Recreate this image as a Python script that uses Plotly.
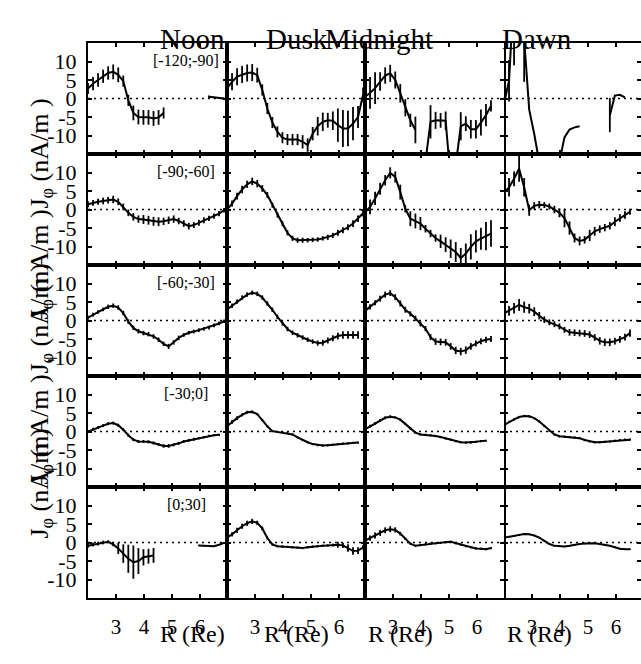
import plotly.graph_objects as go

# ---------------- data ----------------
R = [2.00, 2.18, 2.36, 2.54, 2.72, 2.90, 3.08, 3.26, 3.44, 3.62, 3.80, 3.98, 4.16, 4.34,
     4.52, 4.70, 4.88, 5.06, 5.24, 5.42, 5.60, 5.78, 5.96, 6.14, 6.32, 6.50, 6.68, 6.86]

columns = ["Noon", "Dusk", "Midnight", "Dawn"]
intervals = ["[-120;-90]", "[-90;-60]", "[-60;-30]", "[-30;0]", "[0;30]"]
x_ticks = [3, 4, 5, 6]
y_ticks = [-10, -5, 0, 5, 10]
y_ticklabels = ["-10", "-5", "0", "5", "10"]
N = None

# row 1  [-120;-90]
J_noon_1 = [2.7, 4.0, 5.0, 6.0, 6.9, 7.2, 6.4, 4.7, -0.5, -3.9, -5.0, -5.1, -5.1, -5.4, -5.1, -3.9,
            N, N, N, N, N, N, N, N, 0.5, 0.3, 0.1, 0.0]
E_noon_1 = [1.5, 1.8, 1.8, 1.8, 1.8, 2.0, 2.0, 1.5, 1.5, 2.0, 2.0, 2.0, 2.0, 2.0, 2.0, 1.5,
            N, N, N, N, N, N, N, N, 0.3, 0.2, 0.2, 0.2]
J_dusk_1 = [2.7, 4.5, 5.9, 6.5, 6.9, 7.0, 6.3, 2.3, -2.7, -6.5, -9.0, -10.6, -11.1, -11.1, -11.1,
            -11.7, -12.6, -9.5, -7.5, -6.3, -5.9, -6.0, -7.2, -8.1, -8.1, -6.8, -5.0, 1.0]
E_dusk_1 = [2.3, 2.3, 2.3, 2.3, 2.3, 2.3, 2.0, 1.5, 1.5, 1.5, 1.5, 1.5, 1.5, 1.5, 1.5, 1.8, 1.8,
            1.8, 2.5, 2.5, 2.0, 2.5, 4.5, 5.0, 4.8, 4.5, 3.0, 2.0]
J_mid_1 = [0.5, 1.5, 2.8, 4.6, 6.2, 6.8, 5.0, 1.4, -2.5, -5.9, -8.5, N, -17, -6.3, -5.9, -5.9, -6.0,
           -22, -18, -7.5, -6.8, -8.3, -8.3, -6.5, -4.5, -2.0]
E_mid_1 = [4.3, 4.3, 4.3, 2.5, 2.2, 2.3, 2.3, 2.5, 2.3, 1.8, 3.6, N, 0, 4.5, 2.3, 2.0, 2.5, 0, 0,
           3.8, 2.0, 2.5, 2.5, 3.5, 3.0, 1.5]
J_dawn_1 = [-1.4, 4.8, 30, 45, 16, -3.0, -9.6, -15.6, -25, -25, -25, -17, -10.5, -8.4, -7.8, -7.5,
            N, N, N, N, N, -4.5, 0.8, 1.0, 0.3]
E_dawn_1 = [0, 5.6, 21, 0, 11.5, 0, 0, 0, 0, 0, 0, 0, 0, 0, 0, 0,
            N, N, N, N, N, 4.6, 0, 0, 0]

# row 2  [-90;-60]
J_noon_2 = [1.4, 1.8, 2.1, 2.3, 2.5, 2.7, 2.1, 0.7, -0.9, -2.0, -2.6, -2.7, -2.9, -3.2, -3.3, -3.2,
            -2.9, -2.6, -3.1, -3.8, -4.5, -4.2, -3.6, -2.9, -2.4, -1.8, -1.1, -0.2]
E_noon_2 = [0.8, 0.8, 0.8, 0.9, 0.9, 1.0, 0.9, 0.9, 0.9, 1.0, 1.0, 1.2, 1.2, 1.2, 1.2, 1.0, 1.0,
            1.0, 0.9, 0.9, 0.9, 0.8, 0.8, 0.8, 0.7, 0.7, 0.7, 0.6]
J_dusk_2 = [0.0, 1.6, 3.6, 5.4, 6.8, 7.6, 7.0, 5.7, 3.9, 1.2, -1.5, -3.8, -6.3, -7.8, -8.3, -8.3,
            -8.3, -8.2, -8.1, -7.8, -7.5, -7.0, -6.3, -5.6, -4.8, -3.8, -2.5, -1.0]
E_dusk_2 = [0.7, 0.8, 0.9, 1.0, 1.0, 1.0, 1.0, 0.9, 0.8, 0.7, 0.7, 0.7, 0.7, 0.7, 0.7, 0.7, 0.6,
            0.6, 0.6, 0.6, 0.7, 0.7, 0.8, 0.8, 0.8, 0.9, 0.9, 0.9]
J_mid_2 = [-0.7, 0.7, 3.0, 5.6, 7.9, 9.9, 8.8, 4.7, 0.2, -2.5, -3.1, -3.8, -5.2, -6.5, -7.7, -8.6,
           -9.5, -10.6, -11.5, -13.1, -11.9, -10.1, -8.6, -7.9, -7.2, -6.5]
E_mid_2 = [1.6, 2.0, 1.8, 1.6, 1.4, 1.5, 1.5, 2.0, 1.0, 2.0, 2.0, 1.8, 1.0, 1.0, 1.0, 1.8, 2.0,
           2.5, 2.7, 2.7, 2.7, 3.4, 3.0, 3.0, 3.8, 3.6]
J_dawn_2 = [4.5, 6.0, 8.3, 11.0, 6.0, -0.2, 1.0, 1.3, 1.2, 0.8, 0.0, -0.9, -2.3, -5.0, -7.7, -8.5,
            -8.2, -7.0, -5.9, -5.3, -4.9, -4.4, -3.3, -2.3, -1.5, -0.6]
E_dawn_2 = [2.0, 2.5, 2.0, 3.5, 2.5, 1.5, 1.0, 1.0, 0.8, 0.8, 1.0, 1.2, 2.5, 1.8, 1.2, 1.2, 1.0,
            1.5, 1.2, 1.0, 1.0, 1.0, 1.2, 1.0, 1.0, 0.8]

# row 3  [-60;-30]
J_noon_3 = [0.8, 1.6, 2.3, 3.0, 3.7, 4.0, 3.5, 2.0, -0.3, -2.0, -2.9, -3.4, -3.7, -4.3, -5.2, -6.3,
            -7.0, -5.9, -4.7, -3.9, -3.3, -3.0, -2.6, -2.3, -1.9, -1.3, -0.8, -0.2]
E_noon_3 = [0.5, 0.5, 0.5, 0.5, 0.6, 0.6, 0.6, 0.6, 0.6, 0.6, 0.6, 0.6, 0.6, 0.6, 0.6, 0.6, 0.7,
            0.6, 0.6, 0.5, 0.5, 0.5, 0.5, 0.5, 0.5, 0.5, 0.5, 0.5]
J_dusk_3 = [3.0, 4.0, 5.1, 6.2, 7.0, 7.5, 7.2, 6.2, 4.6, 2.9, 1.0, -0.8, -2.3, -3.3, -4.0, -4.6,
            -5.2, -5.7, -6.1, -6.0, -5.4, -4.8, -4.2, -3.9, -3.9, -3.9, -3.9]
E_dusk_3 = [0.6, 0.6, 0.6, 0.6, 0.6, 0.6, 0.6, 0.6, 0.6, 0.6, 0.6, 0.6, 0.6, 0.6, 0.6, 0.6, 0.6,
            0.6, 0.7, 0.8, 0.8, 0.8, 0.9, 1.0, 1.0, 1.0, 1.0]
J_mid_3 = [2.6, 3.7, 4.8, 5.9, 7.0, 7.4, 6.3, 4.6, 2.9, 1.8, 0.6, -0.9, -2.2, -4.5, -5.7, -5.8,
           -5.9, -7.0, -8.1, -8.4, -8.0, -7.0, -6.2, -5.6, -5.2, -5.0]
E_mid_3 = [0.7, 0.7, 0.7, 0.8, 0.8, 0.8, 0.8, 0.8, 0.8, 0.7, 0.7, 0.7, 0.7, 0.8, 0.9, 0.9, 0.9,
           0.9, 1.0, 1.0, 1.0, 0.9, 0.8, 0.8, 0.8, 0.8]
J_dawn_3 = [1.9, 2.6, 3.3, 4.2, 3.6, 3.2, 2.4, 1.3, 0.2, -0.5, -1.0, -1.6, -2.5, -3.2, -3.3, -3.4,
            -3.5, -3.8, -4.6, -5.5, -5.9, -5.9, -5.6, -5.1, -4.5, -3.4]
E_dawn_3 = [1.2, 1.3, 1.4, 1.6, 1.5, 1.3, 1.2, 1.0, 0.9, 0.8, 0.8, 0.8, 0.8, 0.9, 0.9, 0.9, 0.9,
            0.9, 0.9, 1.0, 1.0, 1.0, 0.9, 0.9, 0.9, 1.0]

# row 4  [-30;0]
J_noon_4 = [0.0, 0.6, 1.1, 1.6, 2.1, 2.3, 1.7, 0.5, -1.0, -2.2, -2.7, -2.7, -2.8, -3.1, -3.5, -3.9,
            -3.9, -3.6, -3.2, -2.7, -2.4, -2.1, -1.8, -1.5, -1.2, -1.0, -0.9]
E_noon_4 = [0.4, 0.4, 0.4, 0.4, 0.4, 0.4, 0.4, 0.4, 0.4, 0.4, 0.4, 0.4, 0.4, 0.4, 0.4, 0.5, 0.5,
            0.4, 0.4, 0.4, 0.4, 0.4, 0.3, 0.3, 0.3, 0.3, 0.3]
J_dusk_4 = [1.4, 2.6, 3.6, 4.5, 5.2, 5.3, 4.7, 3.1, 1.4, 0.1, -0.1, -0.2, -0.4, -0.8, -1.6, -2.3,
            -2.9, -3.4, -3.7, -3.8, -3.7, -3.6, -3.4, -3.3, -3.2, -3.1, -3.0]
E_dusk_4 = [0.6, 0.5, 0.5, 0.4, 0.4, 0.4, 0.3, 0.3, 0.3, 0.3, 0.3, 0.3, 0.3, 0.3, 0.3, 0.3, 0.3,
            0.3, 0.3, 0.3, 0.3, 0.3, 0.3, 0.3, 0.3, 0.3, 0.3]
J_mid_4 = [0.6, 1.4, 2.2, 3.0, 3.7, 4.0, 3.8, 3.2, 2.1, 0.8, -0.3, -0.8, -0.9, -1.0, -1.2, -1.5,
           -1.9, -2.2, -2.6, -2.9, -3.0, -3.0, -2.8, -2.6, -2.5]
E_mid_4 = [0.4, 0.4, 0.4, 0.4, 0.4, 0.4, 0.3, 0.3, 0.3, 0.3, 0.3, 0.3, 0.3, 0.3, 0.3, 0.3, 0.3,
           0.3, 0.3, 0.3, 0.3, 0.3, 0.3, 0.3, 0.3]
J_dawn_4 = [1.7, 2.6, 3.3, 3.9, 4.2, 4.1, 3.6, 2.7, 1.5, 0.2, -0.8, -1.3, -1.4, -1.5, -1.6, -1.8,
            -2.3, -2.7, -2.9, -2.9, -2.8, -2.7, -2.5, -2.3, -2.2, -2.2]
E_dawn_4 = [0.3, 0.3, 0.3, 0.3, 0.3, 0.3, 0.3, 0.3, 0.3, 0.3, 0.3, 0.3, 0.3, 0.3, 0.3, 0.3, 0.3,
            0.3, 0.3, 0.3, 0.3, 0.3, 0.3, 0.3, 0.3, 0.3]

# row 5  [0;30]
J_noon_5 = [-0.9, -0.6, -0.3, 0.0, 0.2, -0.5, -1.6, -3.0, -4.4, -5.3, -5.0, -4.0, -3.7, -3.5,
            N, N, N, N, N, N, N, N, -0.8, -0.9, -0.9, -1.0, -0.6, -0.1]
E_noon_5 = [0.5, 0.5, 0.5, 0.5, 0.4, 0.5, 1.5, 2.5, 3.8, 4.5, 3.5, 2.2, 2.0, 2.0,
            N, N, N, N, N, N, N, N, 0.2, 0.2, 0.2, 0.2, 0.2, 0.2]
J_dusk_5 = [1.4, 2.2, 3.3, 4.4, 5.2, 5.7, 5.3, 3.8, 1.2, -0.5, -1.0, -1.1, -1.2, -1.3, -1.4, -1.5,
            -1.3, -1.1, -1.0, -0.9, -0.8, -0.7, -0.6, -0.8, -1.5, -2.3, -2.2, -1.3]
E_dusk_5 = [0.6, 0.6, 0.7, 0.7, 0.7, 0.7, 0.6, 0.5, 0.4, 0.3, 0.3, 0.3, 0.3, 0.3, 0.3, 0.3, 0.3,
            0.3, 0.3, 0.3, 0.3, 0.4, 0.8, 0.7, 1.0, 1.0, 0.9, 0.6]
J_mid_5 = [0.5, 1.2, 1.9, 2.6, 3.3, 3.6, 3.4, 2.4, 1.0, -0.3, -0.9, -0.7, -0.5, -0.3, -0.2, -0.1,
           0.1, 0.2, -0.2, -0.6, -1.0, -1.3, -1.6, -1.7, -1.8, -1.5]
E_mid_5 = [0.6, 0.7, 0.8, 0.8, 0.8, 0.8, 0.7, 0.5, 0.3, 0.3, 0.3, 0.3, 0.3, 0.3, 0.3, 0.3, 0.3,
           0.3, 0.3, 0.3, 0.3, 0.3, 0.3, 0.3, 0.3, 0.3]
J_dawn_5 = [1.3, 1.5, 1.7, 2.0, 2.3, 2.2, 1.9, 1.3, 0.5, -0.4, -0.9, -1.0, -1.1, -0.9, -0.6, -0.4,
            -0.3, -0.2, -0.2, -0.4, -0.6, -0.9, -1.3, -1.7, -1.8, -1.8]
E_dawn_5 = [0.2, 0.2, 0.2, 0.2, 0.2, 0.2, 0.2, 0.2, 0.2, 0.2, 0.2, 0.2, 0.2, 0.2, 0.2, 0.2, 0.2,
            0.2, 0.2, 0.2, 0.2, 0.2, 0.2, 0.2, 0.2, 0.2]

panel_J = [[J_noon_1, J_dusk_1, J_mid_1, J_dawn_1],
           [J_noon_2, J_dusk_2, J_mid_2, J_dawn_2],
           [J_noon_3, J_dusk_3, J_mid_3, J_dawn_3],
           [J_noon_4, J_dusk_4, J_mid_4, J_dawn_4],
           [J_noon_5, J_dusk_5, J_mid_5, J_dawn_5]]
panel_E = [[E_noon_1, E_dusk_1, E_mid_1, E_dawn_1],
           [E_noon_2, E_dusk_2, E_mid_2, E_dawn_2],
           [E_noon_3, E_dusk_3, E_mid_3, E_dawn_3],
           [E_noon_4, E_dusk_4, E_mid_4, E_dawn_4],
           [E_noon_5, E_dusk_5, E_mid_5, E_dawn_5]]

# ---------------- layout geometry (pixels) ----------------
W, H = 641, 664
col_px = [(88, 227), (227, 365), (365, 504), (504, 641)]
row_px = [(43, 154), (154, 265), (265, 376), (376, 487), (487, 598)]
PX_PER_R = 28.0
FONT = "Liberation Serif"

fig = go.Figure()
shapes = []
annotations = []
layout = {}

for r in range(5):
    for c in range(4):
        i = r * 4 + c + 1
        sfx = "" if i == 1 else str(i)
        xname, yname = "x" + sfx, "y" + sfx
        x0, x1 = col_px[c]
        y0, y1 = row_px[r]
        J = panel_J[r][c]
        E = panel_E[r][c]
        fig.add_trace(go.Scatter(
            x=R[:len(J)], y=J, mode="lines", xaxis=xname, yaxis=yname,
            line=dict(color="black", width=2), connectgaps=False, showlegend=False,
            error_y=dict(type="data", array=E, visible=True, thickness=1.8, width=0,
                         color="black"),
            hoverinfo="skip"))
        layout["xaxis" + sfx] = dict(
            domain=[x0 / W, x1 / W], range=[2, 2 + (x1 - x0) / PX_PER_R], anchor=yname,
            tickvals=x_ticks, ticks="inside", ticklen=4, tickwidth=1.5, tickcolor="black",
            showline=True, linewidth=2, linecolor="black", mirror="ticks",
            showgrid=False, zeroline=False, showticklabels=(r == 4),
            tickfont=dict(size=21), ticklabelstandoff=9)
        layout["yaxis" + sfx] = dict(
            domain=[1 - y1 / H, 1 - y0 / H], range=[-15, 15], anchor=xname,
            tickvals=y_ticks, ticktext=y_ticklabels, ticks="inside", ticklen=4,
            tickwidth=1.5, tickcolor="black",
            showline=(c != 3), linewidth=2, linecolor="black", mirror="ticks",
            showgrid=False, zeroline=False, showticklabels=(c == 0),
            tickfont=dict(size=22), ticklabelstandoff=5)
        shapes.append(dict(type="line", xref=xname + " domain", yref=yname,
                           x0=0, x1=1, y0=0, y1=0, layer="below",
                           line=dict(color="black", width=1.5, dash="2px,4px")))
        if c == 0:
            annotations.append(dict(text=intervals[r], x=5.5, y=10.4, xref=xname, yref=yname,
                                    showarrow=False, font=dict(family=FONT, size=16)))

for c in range(4):
    x0, x1 = col_px[c]
    cx = (x0 + 69.5) / W
    annotations.append(dict(text=columns[c], x=cx, y=1 - 21 / H, xref="paper", yref="paper",
                            showarrow=False, font=dict(family=FONT, size=29)))
    annotations.append(dict(text="R (Re)", x=cx, y=1 - 649 / H, xref="paper", yref="paper",
                            showarrow=False, font=dict(family=FONT, size=24)))

for r in range(5):
    y0, y1 = row_px[r]
    annotations.append(dict(text="J<sub>φ</sub> (nA/m )", x=22 / W, y=1 - ((y0 + y1) / 2 - 2) / H,
                            xref="paper", yref="paper", textangle=-90, showarrow=False,
                            font=dict(family=FONT, size=26)))

fig.update_layout(**layout)
fig.update_layout(width=W, height=H, margin=dict(l=0, r=0, t=0, b=0),
                  font=dict(family=FONT, color="black"),
                  paper_bgcolor="white", plot_bgcolor="white",
                  shapes=shapes, annotations=annotations, showlegend=False)

serif_js = """
var gd = document.getElementById('{plot_id}');
if (gd) {
  gd.querySelectorAll('text').forEach(function (t) {
    t.style.fontFamily = "'Liberation Serif', 'Times New Roman', serif";
  });
}
"""
fig.write_html("out.html", post_script=serif_js)
